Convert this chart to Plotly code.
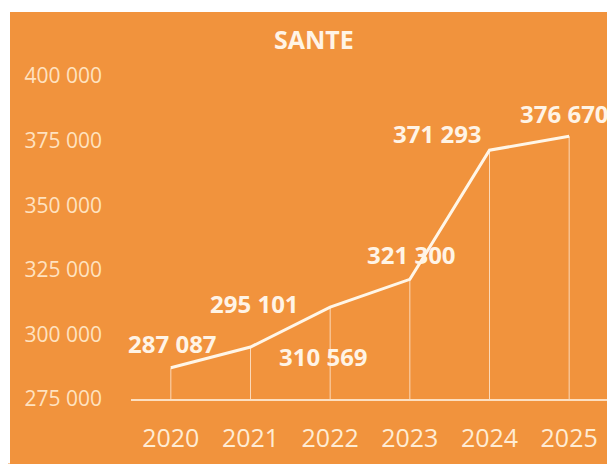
import plotly.graph_objects as go

years = ["2020", "2021", "2022", "2023", "2024", "2025"]
values = [287087, 295101, 310569, 321300, 371293, 376670]
value_labels = ["287 087", "295 101", "310 569", "321 300", "371 293", "376 670"]
y_ticks = [275000, 300000, 325000, 350000, 375000, 400000]
y_tick_labels = ["275 000", "300 000", "325 000", "350 000", "375 000", "400 000"]
title_text = "SANTE"

# label offsets in pixels (style)
label_dx = [2, 4, -7, 2, -52, -5]
label_dy = [24, 44, -49, 25, 17, 23]

W, H = 607, 456          # page body margin of 8px is added by the browser
ML, MR, MT, MB = 123, 6, 68, 64.5
PW, PH = W - ML - MR, H - MT - MB

base = y_ticks[0]
ORANGE = "#F1933D"
LINE = "rgb(255,246,232)"

fig = go.Figure()
fig.add_trace(go.Scatter(
    x=years, y=values, mode="lines",
    line=dict(color=LINE, width=3),
    error_y=dict(type="data", symmetric=False,
                 array=[0] * len(values),
                 arrayminus=[v - base for v in values],
                 color="rgba(255,240,225,0.75)", thickness=1, width=0),
    hoverinfo="skip", showlegend=False,
))

for i, (v, t) in enumerate(zip(values, value_labels)):
    fig.add_annotation(x=i, y=v, xref="x", yref="y", text=t, showarrow=False,
                       xshift=label_dx[i], yshift=label_dy[i],
                       font=dict(family="Open Sans", size=24, color="rgb(255,244,230)", weight="bold"))

fig.add_annotation(xref="paper", yref="paper",
                   x=(306 - ML) / PW, y=(PH + MT - 31) / PH,
                   xanchor="center", yanchor="middle", text=title_text, showarrow=False,
                   font=dict(family="Open Sans", size=25, color="rgb(255,244,230)", weight="bold"))

fig.update_layout(
    width=W, height=H,
    margin=dict(l=ML, r=MR, t=MT, b=MB),
    paper_bgcolor=ORANGE, plot_bgcolor=ORANGE,
    showlegend=False,
    xaxis=dict(type="category", range=[-0.5, 5.5], showgrid=False, zeroline=False,
               showline=True, linecolor="rgba(255,236,215,0.85)", linewidth=1.5,
               ticks="", ticklabelstandoff=16,
               tickfont=dict(family="Open Sans", size=25, color="rgb(255,236,212)")),
    yaxis=dict(range=[275000, 400000], showgrid=False, zeroline=False, showline=False,
               tickvals=y_ticks, ticktext=y_tick_labels, ticks="",
               ticklabelstandoff=28,
               tickfont=dict(family="Open Sans", size=21, color="rgb(255,226,192)")),
    shapes=[
        dict(type="rect", xref="paper", yref="paper", x0=-ML / PW, x1=(-ML + 2) / PW,
             y0=-MB / PH, y1=(PH + MT) / PH, fillcolor="#FFFFFF", line=dict(width=0), layer="above"),
        dict(type="rect", xref="paper", yref="paper", x0=-ML / PW, x1=(PW + MR) / PW,
             y0=(PH + MT - 4) / PH, y1=(PH + MT) / PH, fillcolor="#FFFFFF", line=dict(width=0), layer="above"),
    ],
)

fig.write_html("out.html")
